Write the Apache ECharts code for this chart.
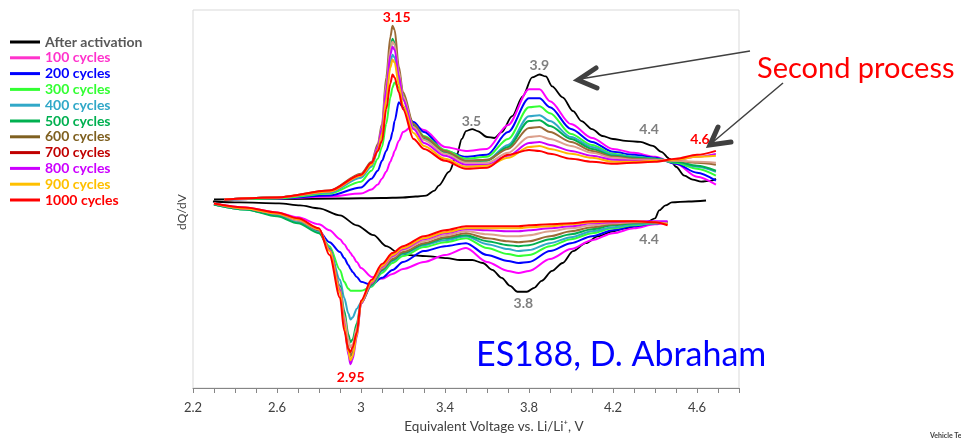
<!DOCTYPE html>
<html>
<head>
<meta charset="utf-8">
<script src="https://cdn.jsdelivr.net/npm/echarts@6.0.0/dist/echarts.min.js"></script>
<style>
html,body{margin:0;padding:0;background:#fff;}
#chart{width:961px;height:439px;}
</style>
</head>
<body>
<div id="chart"></div>
<script>
// ---------- DATA (voltage in V, dQ/dV in arbitrary units) ----------
const seriesNames = ['After activation','100 cycles','200 cycles','300 cycles','400 cycles','500 cycles','600 cycles','700 cycles','800 cycles','900 cycles','1000 cycles'];

const xTickLabels = ['2.2','2.6','3','3.4','3.8','4.2','4.6'];

// After activation (black)
const blackChargeV = [2.30,2.60,2.90,3.10,3.20,3.26,3.31,3.35,3.37,3.42,3.455,3.48,3.50,3.53,3.555,3.60,3.635,3.67,3.72,3.77,3.815,3.85,3.88,3.91,3.96,4.01,4.05,4.10,4.15,4.20,4.26,4.33,4.39,4.43,4.47,4.50,4.54,4.58,4.62,4.67,4.69];
const blackChargeQ = [0.0,0.05,0.1,0.15,0.2,0.3,0.4,0.9,1.4,2.8,4.4,6.1,6.9,7.1,6.9,6.3,6.2,6.8,8.4,10.4,12.3,12.6,12.4,11.4,10.3,8.9,7.9,7.1,6.4,6.1,5.9,5.8,5.4,4.8,4.1,3.3,2.4,2.0,1.8,1.9,2.1];
const blackDischargeV = [4.643,4.56,4.48,4.45,4.42,4.40,4.37,4.325,4.26,4.20,4.13,4.07,4.01,3.96,3.91,3.86,3.825,3.79,3.745,3.71,3.67,3.625,3.58,3.53,3.47,3.41,3.31,3.23,3.18,3.12,3.06,2.98,2.90,2.80,2.71,2.61,2.42,2.295];
const blackDischargeQ = [-0.1,-0.2,-0.3,-0.6,-1.1,-1.9,-2.2,-2.6,-2.9,-3.2,-3.7,-4.4,-5.2,-6.4,-7.2,-8.2,-8.9,-9.3,-9.3,-8.7,-7.9,-7.1,-6.4,-6.1,-6.1,-5.9,-5.7,-5.6,-5.4,-4.7,-3.6,-2.6,-1.6,-0.9,-0.6,-0.4,-0.3,-0.2];

// cycled cells: shared voltage grids
const chargeV = [2.35,2.60,2.85,3.00,3.05,3.08,3.10,3.12,3.14,3.15,3.16,3.18,3.20,3.25,3.30,3.40,3.50,3.60,3.70,3.80,3.85,3.90,4.00,4.10,4.20,4.30,4.40,4.50,4.60,4.69];
const dischargeV = [4.46,4.40,4.30,4.20,4.10,4.00,3.90,3.80,3.75,3.70,3.60,3.50,3.40,3.30,3.20,3.15,3.10,3.05,3.00,2.98,2.96,2.95,2.94,2.92,2.90,2.85,2.80,2.70,2.60,2.45,2.30];

const charge100 = [0.0,0.1,0.3,0.6,1.0,1.5,2.1,2.8,3.8,4.3,4.9,5.9,6.8,7.5,7.0,5.3,4.9,5.1,7.5,11.1,11.1,9.9,7.6,6.2,5.1,4.7,4.3,3.6,2.3,1.5];
const charge200 = [0.0,0.1,0.4,1.2,2.1,2.9,3.9,4.9,6.0,6.8,7.9,9.8,9.3,7.8,6.8,4.9,4.3,4.5,6.8,10.2,10.2,9.3,7.1,5.8,4.8,4.5,4.2,3.6,2.7,1.9];
const charge300 = [0.0,0.1,0.6,1.8,2.9,4.1,5.3,7.6,10.3,11.3,11.8,11.3,10.1,7.6,6.4,5.0,4.1,4.3,6.1,9.3,9.4,8.7,6.6,5.5,4.6,4.3,4.1,3.7,3.1,2.4];
const charge400 = [0.0,0.2,0.7,2.2,3.3,4.9,6.7,10.5,13.8,14.6,14.3,12.1,10.1,7.3,6.1,4.8,3.9,4.0,5.5,8.4,8.5,7.9,6.3,5.3,4.5,4.3,4.1,3.8,3.3,2.8];
const charge500 = [0.0,0.2,0.8,2.4,3.5,5.2,7.1,11.3,15.1,16.2,15.8,12.9,10.5,7.4,6.1,4.7,3.8,3.9,5.3,7.9,8.0,7.4,6.1,5.1,4.4,4.2,4.1,3.8,3.4,2.9];
const charge600 = [0.0,0.2,0.9,2.6,3.8,5.6,7.6,12.3,16.4,17.5,17.1,13.4,10.8,7.6,6.3,4.9,3.9,4.0,5.1,7.2,7.3,6.8,5.8,4.9,4.3,4.1,4.0,3.9,3.7,3.5];
const charge700 = [0.0,0.2,0.8,2.5,3.6,5.3,7.3,11.6,15.2,15.9,15.6,12.9,10.4,7.3,6.0,4.6,3.7,3.7,4.7,6.3,6.4,6.1,5.4,4.7,4.2,4.0,4.0,3.9,3.8,3.7];
const charge800 = [0.0,0.2,0.8,2.4,3.6,5.3,7.2,11.1,14.6,15.4,15.1,12.5,10.1,7.1,5.7,4.4,3.5,3.5,4.4,5.7,5.8,5.5,4.9,4.4,4.0,3.9,3.9,4.0,4.3,4.6];
const charge900 = [0.0,0.2,0.8,2.4,3.5,5.0,6.6,10.1,13.3,14.1,13.8,11.6,9.5,6.7,5.4,4.1,3.3,3.4,4.2,5.3,5.4,5.1,4.6,4.2,3.8,3.8,3.9,4.0,4.3,4.4];
const charge1000 = [0.0,0.2,0.9,2.5,3.7,4.9,5.9,9.1,11.7,12.6,12.3,10.8,9.1,6.1,5.1,3.9,3.1,3.2,4.5,5.0,4.9,4.6,4.1,3.8,3.6,3.7,3.8,4.1,4.5,4.9];

const discharge100 = [-2.3,-2.5,-2.9,-3.4,-4.1,-5.0,-6.0,-7.2,-7.4,-7.2,-6.3,-4.9,-5.6,-6.3,-7.0,-7.5,-8.0,-7.8,-6.9,-6.3,-5.7,-5.4,-5.1,-4.5,-4.0,-3.1,-2.5,-1.8,-1.3,-0.8,-0.4];
const discharge200 = [-2.3,-2.4,-2.7,-3.1,-3.7,-4.4,-5.2,-6.3,-6.4,-6.2,-5.6,-4.4,-4.7,-5.2,-6.3,-7.1,-7.9,-8.6,-8.3,-7.8,-7.3,-7.0,-6.6,-5.9,-5.3,-4.3,-3.2,-2.1,-1.5,-0.9,-0.5];
const discharge300 = [-2.3,-2.4,-2.6,-2.9,-3.4,-4.0,-4.7,-5.6,-5.7,-5.5,-4.9,-3.9,-4.3,-4.8,-5.7,-6.4,-7.4,-8.8,-9.2,-9.2,-9.2,-9.2,-9.0,-8.3,-7.1,-4.7,-3.3,-2.3,-1.6,-1.0,-0.5];
const discharge400 = [-2.3,-2.4,-2.5,-2.8,-3.2,-3.8,-4.4,-5.1,-5.2,-5.0,-4.5,-3.7,-4.1,-4.6,-5.5,-6.2,-7.2,-8.7,-10.4,-11.0,-11.9,-12.1,-11.5,-9.9,-8.1,-4.9,-3.3,-2.3,-1.6,-1.0,-0.5];
const discharge500 = [-2.3,-2.3,-2.4,-2.6,-3.0,-3.5,-4.0,-4.6,-4.7,-4.6,-4.2,-3.6,-3.9,-4.5,-5.4,-6.1,-7.1,-8.6,-10.4,-12.5,-14.1,-14.4,-13.6,-11.2,-8.7,-5.0,-3.4,-2.4,-1.7,-1.0,-0.5];
const discharge600 = [-2.3,-2.3,-2.3,-2.5,-2.8,-3.2,-3.7,-4.2,-4.3,-4.2,-3.9,-3.4,-3.8,-4.4,-5.3,-6.0,-7.0,-8.5,-10.5,-13.5,-15.4,-15.8,-14.9,-12.2,-9.1,-5.1,-3.1,-2.1,-1.4,-0.9,-0.4];
const discharge700 = [-2.3,-2.3,-2.3,-2.4,-2.6,-2.9,-3.2,-3.6,-3.7,-3.7,-3.5,-3.2,-3.6,-4.2,-5.1,-5.8,-6.9,-8.4,-10.3,-12.9,-14.6,-14.9,-14.1,-11.7,-8.9,-5.1,-3.0,-2.1,-1.4,-0.9,-0.4];
const discharge800 = [-2.2,-2.2,-2.2,-2.3,-2.4,-2.7,-2.9,-3.1,-3.2,-3.2,-3.1,-3.0,-3.4,-4.0,-5.0,-5.7,-6.8,-8.4,-10.5,-13.9,-16.1,-16.6,-15.7,-12.4,-9.1,-5.1,-3.0,-2.0,-1.4,-0.9,-0.4];
const discharge900 = [-2.5,-2.3,-2.2,-2.2,-2.3,-2.5,-2.7,-2.8,-2.9,-2.9,-2.9,-2.9,-3.3,-3.9,-4.9,-5.6,-6.7,-8.3,-10.4,-13.7,-15.8,-16.2,-15.4,-12.6,-9.3,-5.2,-3.0,-2.0,-1.4,-0.9,-0.4];
const discharge1000 = [-2.6,-2.3,-2.2,-2.2,-2.2,-2.4,-2.5,-2.6,-2.7,-2.7,-2.7,-2.7,-3.1,-3.7,-4.7,-5.4,-6.5,-8.1,-10.2,-13.4,-14.9,-15.4,-15.1,-13.2,-9.9,-5.6,-2.9,-1.9,-1.3,-0.8,-0.4];

// annotations (value positions)
const peakLabels = [
  {text:'3.15', v:3.170, q:18.3, red:true},
  {text:'2.95', v:2.951, q:-17.9, red:true},
  {text:'3.9',  v:3.849, q:13.5, red:false},
  {text:'3.5',  v:3.526, q:7.9,  red:false},
  {text:'4.4',  v:4.372, q:7.1,  red:false},
  {text:'4.4',  v:4.372, q:-4.0, red:false},
  {text:'3.8',  v:3.773, q:-10.5,red:false},
  {text:'4.6',  v:4.614, q:6.0,  red:true}
];

// ---------- STYLE ----------
const lineColors   = ['#000000','#ff00ff','#0000ff','#33ff33','#31a8c8','#00b050','#9a6a36','#dca08c','#cc00ff','#ffb800','#ff0000'];
const legendColors = ['#000000','#ff33cc','#0000ff','#33ff33','#31a8c8','#00b050','#7f6020','#c00000','#cc00ff','#ffc000','#ff0000'];
const textColors   = ['#595959','#ff33cc','#0000ff','#33ff33','#31a8c8','#00b050','#7f6020','#c00000','#cc00ff','#ffc000','#ff0000'];

const chargeSets = [charge100,charge200,charge300,charge400,charge500,charge600,charge700,charge800,charge900,charge1000];
const dischargeSets = [discharge100,discharge200,discharge300,discharge400,discharge500,discharge600,discharge700,discharge800,discharge900,discharge1000];

function pairs(xs, ys){ return xs.map((x,i)=>[x, ys[i]]); }

function mkSeries(name, data, color, width){
  return {
    name, type:'line', data, showSymbol:false, symbol:'none',
    smooth:0.3, smoothMonotone:'x', silent:true,
    lineStyle:{color, width}, itemStyle:{color},
    emphasis:{disabled:true}
  };
}

const series = [];
series.push(mkSeries(seriesNames[0], pairs(blackChargeV, blackChargeQ), lineColors[0], 1.8));
series.push(mkSeries(seriesNames[0], pairs(blackDischargeV, blackDischargeQ), lineColors[0], 1.8));
for (let i = 0; i < 10; i++) {
  series.push(mkSeries(seriesNames[i+1], pairs(chargeV, chargeSets[i]), lineColors[i+1], 2));
  series.push(mkSeries(seriesNames[i+1], pairs(dischargeV, dischargeSets[i]), lineColors[i+1], 2));
}

const legendData = seriesNames.map((n,i)=>({
  name:n,
  itemStyle:{color:legendColors[i]},
  textStyle:{color:textColors[i]}
}));

const FONT = 'Lato, "Open Sans", sans-serif';

const chart = echarts.init(document.getElementById('chart'), null, {renderer:'canvas'});
chart.setOption({
  animation:false,
  backgroundColor:'#ffffff',
  textStyle:{fontFamily:FONT},
  grid:{left:193, top:10, width:546, height:381, show:true, borderColor:'#d9d9d9', borderWidth:1},
  legend:{
    orient:'vertical', left:10, top:35, padding:0, itemWidth:30, itemHeight:3, itemGap:1.8,
    icon:'rect', selectedMode:false, data:legendData,
    textStyle:{fontSize:14, fontWeight:'bold', lineHeight:14, fontFamily:FONT}
  },
  xAxis:{
    type:'value', min:2.2, max:4.8, interval:0.1,
    axisLine:{show:true, onZero:false, lineStyle:{color:'#868686', width:1}},
    axisTick:{show:true, length:5, lineStyle:{color:'#868686'}},
    axisLabel:{
      color:'#404040', fontSize:13, margin:13, fontFamily:FONT,
      formatter:(v)=>{
        const k = Math.round((v-2.2)*10);
        return (k % 4 === 0 && xTickLabels[k/4] !== undefined) ? xTickLabels[k/4] : '';
      }
    },
    splitLine:{show:false},
    name:'Equivalent Voltage vs. Li/Li\u207A, V', nameLocation:'middle', nameGap:32,
    nameTextStyle:{color:'#404040', fontSize:13.5, fontFamily:FONT, padding:[0,0,0,56]}
  },
  yAxis:{
    type:'value', min:-19, max:19.1,
    axisLine:{show:false}, axisTick:{show:false}, axisLabel:{show:false}, splitLine:{show:false}
  },
  series
});

// ---------- ANNOTATIONS ----------
const g = [];
peakLabels.forEach(p=>{
  const pt = chart.convertToPixel({gridIndex:0}, [p.v, p.q]);
  g.push({type:'text', x:pt[0], y:pt[1], z:50, silent:true,
    style:{text:p.text, fill:p.red ? '#ff0000' : '#7f7f7f', font:'bold 14px ' + FONT, align:'center', verticalAlign:'middle'}});
});
// y axis title
g.push({type:'text', x:182, y:212, rotation:Math.PI/2, z:50, silent:true,
  style:{text:'dQ/dV', fill:'#404040', font:'12px ' + FONT, align:'center', verticalAlign:'middle'}});
// arrows
const arrowColor = '#404040';
g.push({type:'line', z:60, silent:true, shape:{x1:750, y1:51, x2:580, y2:79}, style:{stroke:arrowColor, lineWidth:1.5}});
g.push({type:'polyline', z:60, silent:true, shape:{points:[[596,68],[578,80],[597,88]]}, style:{stroke:arrowColor, lineWidth:5, fill:null, lineJoin:'miter', lineCap:'round'}});
g.push({type:'line', z:60, silent:true, shape:{x1:783, y1:83, x2:713, y2:142}, style:{stroke:arrowColor, lineWidth:1.5}});
g.push({type:'polyline', z:60, silent:true, shape:{points:[[718,127],[710,145],[731,142]]}, style:{stroke:arrowColor, lineWidth:5, fill:null, lineJoin:'miter', lineCap:'round'}});
// big texts
g.push({type:'text', x:757, y:54, z:60, silent:true,
  style:{text:'Second process', fill:'#ff0000', font:'29px ' + FONT, align:'left', verticalAlign:'top'}});
g.push({type:'text', x:476, y:338, z:60, silent:true,
  style:{text:'ES188, D. Abraham', fill:'#0000ff', font:'34px ' + FONT, align:'left', verticalAlign:'top'}});
g.push({type:'text', x:930, y:432, z:60, silent:true,
  style:{text:'Vehicle Technologies', fill:'#404040', font:'bold 7px ' + FONT, align:'left', verticalAlign:'top'}});

chart.setOption({graphic:{elements:g}});
</script>
</body>
</html>
